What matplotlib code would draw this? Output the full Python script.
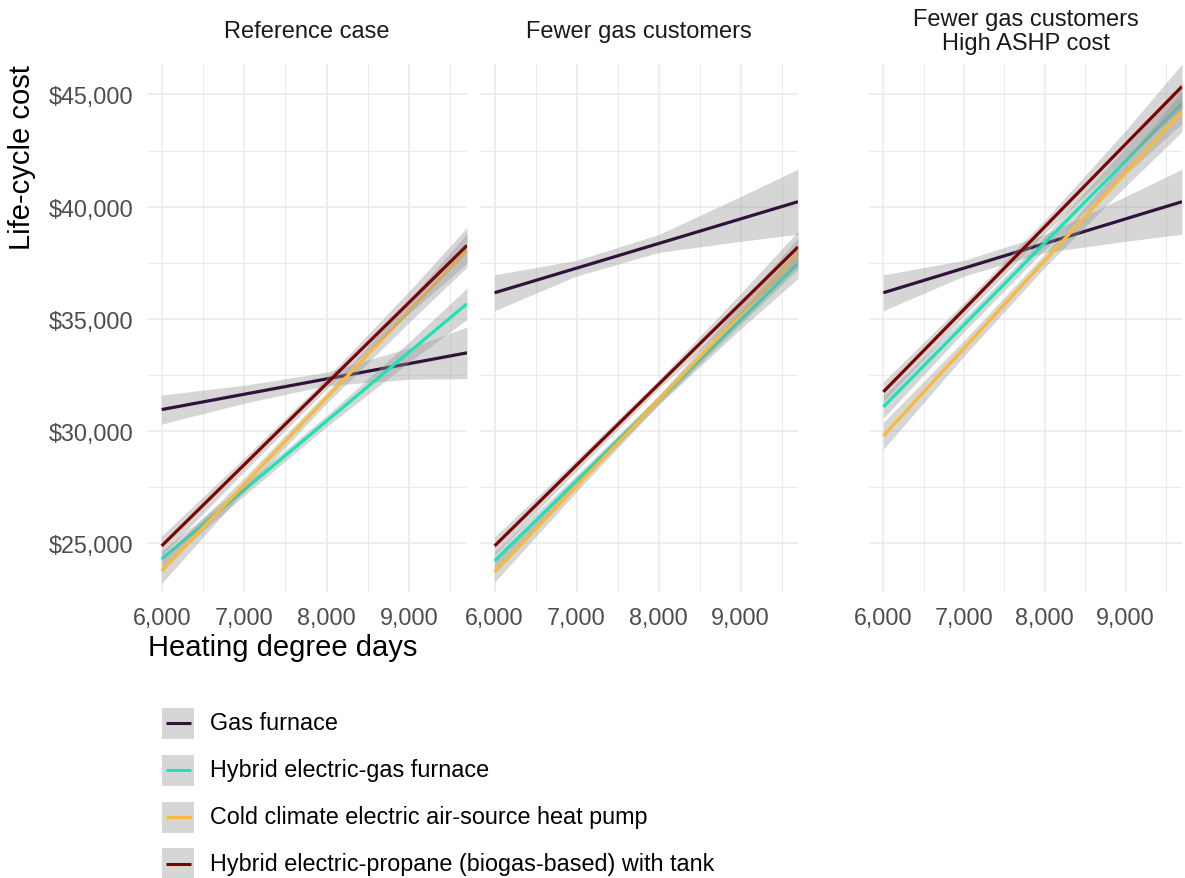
import numpy as np
import matplotlib
matplotlib.use("Agg")
import matplotlib.pyplot as plt
from matplotlib.ticker import StrMethodFormatter, MultipleLocator
from matplotlib.patches import Rectangle
from matplotlib.lines import Line2D

plt.rcParams['font.family'] = ['Liberation Sans', 'DejaVu Sans']

# Data
panels = ["Reference case", "Fewer gas customers", "Fewer gas customers\nHigh ASHP cost"]
systems = ["Gas furnace",
           "Hybrid electric-gas furnace",
           "Cold climate electric air-source heat pump",
           "Hybrid electric-propane (biogas-based) with tank"]
colors = ["#30123B", "#1AE4B6", "#FABA39", "#7A0403"]

hdd_ends = [6000, 9700]
# fitted life-cycle cost at 6,000 and 9,700 HDD: gas, hybrid gas, ASHP, hybrid propane
ref_cost = [[30950, 33480], [24290, 35670], [23750, 38050], [24870, 38270]]
fewer_cost = [[36160, 40220], [24200, 37450], [23700, 37900], [24870, 38200]]
ashp_cost = [[36160, 40220], [31070, 44600], [29780, 44240], [31740, 45360]]

# half-width of the confidence band at these HDD values
band_hdd = [6000, 7000, 8000, 9000, 9700]
ref_band = [[650, 400, 300, 700, 1150], [350, 250, 250, 450, 700],
            [550, 300, 250, 500, 750], [450, 300, 250, 500, 800]]
fewer_band = [[800, 350, 400, 1000, 1450], [400, 250, 200, 400, 650],
              [450, 250, 200, 450, 700], [400, 250, 200, 450, 700]]
ashp_band = [[800, 350, 400, 1000, 1450], [500, 300, 300, 600, 900],
             [600, 350, 300, 600, 900], [450, 300, 300, 600, 1000]]

costs = [ref_cost, fewer_cost, ashp_cost]
bands = [ref_band, fewer_band, ashp_band]

W, H = 1185, 879
fig = plt.figure(figsize=(W / 100, H / 100), dpi=100)

# panel boxes in pixels: left, right
boxes = [(147, 467), (480, 798), (869, 1182)]
top, bottom = 65, 593

grid_c = "#EBEBEB"
for k, (l, r) in enumerate(boxes):
    ax = fig.add_axes([l / W, 1 - bottom / H, (r - l) / W, (bottom - top) / H])
    ax.set_xlim(5822, 9700)
    ax.set_ylim(22815, 46360)
    ax.xaxis.set_major_locator(MultipleLocator(1000))
    ax.xaxis.set_minor_locator(MultipleLocator(500))
    ax.yaxis.set_major_locator(MultipleLocator(5000))
    ax.yaxis.set_minor_locator(MultipleLocator(2500))
    ax.xaxis.set_major_formatter(StrMethodFormatter('{x:,.0f}'))
    ax.yaxis.set_major_formatter(StrMethodFormatter('${x:,.0f}'))
    ax.grid(which='major', color=grid_c, lw=1.2)
    ax.grid(which='minor', color=grid_c, lw=0.75)
    ax.set_axisbelow(True)
    for s in ax.spines.values():
        s.set_visible(False)
    ax.tick_params(which='both', length=0, labelsize=16.8, labelcolor="#4D4D4D", pad=10)
    if k > 0:
        ax.tick_params(axis='y', labelleft=False)

    for i in range(4):
        c0, c1 = costs[k][i]
        bx = np.array(band_hdd)
        fit = c0 + (c1 - c0) * (bx - hdd_ends[0]) / (hdd_ends[1] - hdd_ends[0])
        hw = np.array(bands[k][i])
        ax.fill_between(bx, fit - hw, fit + hw, color="#999999", alpha=0.4, lw=0,
                        zorder=2 + 2 * i)
        ax.plot(hdd_ends, costs[k][i], color=colors[i], lw=2.3,
                solid_capstyle='butt', zorder=3 + 2 * i)

    ax.text(0.5, 1 + 33 / (bottom - top), panels[k], transform=ax.transAxes,
            ha='center', va='center', fontsize=17, color="#1A1A1A", linespacing=1.12)

fig.text(22 / W, 1 - 65 / H, "Life-cycle cost", rotation=90, ha='center', va='top',
         fontsize=21)
fig.text(148 / W, 1 - 648 / H, "Heating degree days", ha='left', va='center',
         fontsize=21)

# legend drawn by hand: grey key box with the coloured line, then the label
for i, (name, c) in enumerate(zip(systems, colors)):
    yc = 724 + 47 * i
    fig.add_artist(Rectangle((162 / W, 1 - (yc + 15.5) / H), 32 / W, 31 / H,
                             transform=fig.transFigure, facecolor="#999999",
                             alpha=0.4, edgecolor='none'))
    fig.add_artist(Line2D([166 / W, 191 / W], [1 - yc / H, 1 - yc / H],
                          transform=fig.transFigure, color=c, lw=2.2,
                          solid_capstyle='butt'))
    fig.text(210 / W, 1 - yc / H, name, ha='left', va='center', fontsize=16.8)

fig.savefig("out.png", dpi=100)
